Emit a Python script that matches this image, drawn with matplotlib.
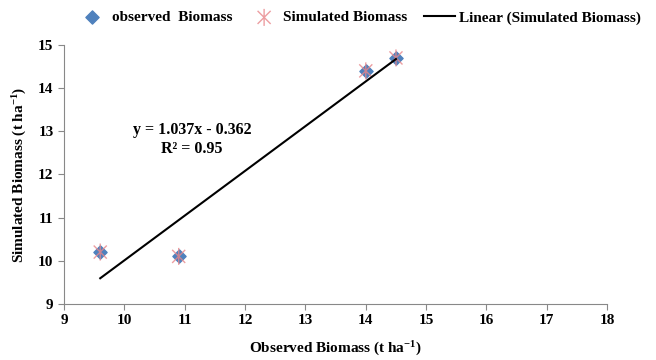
import numpy as np
import matplotlib.pyplot as plt
from matplotlib.path import Path

observed = [9.6, 10.9, 14.0, 14.5]
simulated = [10.2, 10.1, 14.4, 14.7]
slope = 1.037
intercept = -0.362
r2 = 0.95

plt.rcParams['font.family'] = ['Liberation Serif', 'DejaVu Serif']
plt.rcParams['font.weight'] = 'bold'
plt.rcParams['mathtext.fontset'] = 'custom'
plt.rcParams['mathtext.rm'] = 'Liberation Serif:bold'
plt.rcParams['mathtext.bf'] = 'Liberation Serif:bold'
plt.rcParams['mathtext.default'] = 'rm'

# excel-like star marker: x with a vertical bar
star = Path([(-1, -1), (1, 1), (-1, 1), (1, -1), (0, -1.3), (0, 1.3)],
            [Path.MOVETO, Path.LINETO, Path.MOVETO, Path.LINETO, Path.MOVETO, Path.LINETO])

fig = plt.figure(figsize=(6.56, 3.6), dpi=100)
ax = fig.add_axes([0.0976, 0.156, 0.828, 0.719])

ax.scatter(observed, simulated, marker='D', s=45, color='#4F81BD', zorder=3,
           label='observed  Biomass')
ax.scatter(observed, simulated, marker=star, s=150, facecolors='none',
           edgecolors='#E8868A', linewidths=1.0, zorder=4, alpha=0.8,
           label='Simulated Biomass')

xs = np.array([min(observed), max(observed)])
ax.plot(xs, slope * xs + intercept, color='black', lw=1.5, zorder=5,
        label='Linear (Simulated Biomass)')

ax.text(11.12, 12.81, f'y = {slope}x - {abs(intercept)}\nR² = {r2}', ha='center', va='center',
        fontsize=11.5, fontweight='bold', linespacing=1.25)

ax.set_xlim(9, 18)
ax.set_ylim(9, 15)
ax.set_xticks(range(9, 19))
ax.set_yticks(range(9, 16))
for s in ['top', 'right']:
    ax.spines[s].set_visible(False)
for s in ['left', 'bottom']:
    ax.spines[s].set_color('#888888')
ax.tick_params(colors='#888888', labelcolor='black', labelsize=11, length=4)
for lab in ax.get_xticklabels() + ax.get_yticklabels():
    lab.set_fontweight('bold')

ax.set_xlabel('Observed Biomass (t ha$^{-1}$)', fontsize=11, fontweight='bold', labelpad=9)
ax.set_ylabel('Simulated Biomass (t ha$^{-1}$)', fontsize=11, fontweight='bold', labelpad=7)

fig.legend(loc='center', bbox_to_anchor=(0.547, 0.951), ncol=3, frameon=False,
           handlelength=2.0, columnspacing=1.1, handletextpad=0.25,
           prop={'weight': 'bold', 'size': 11})

fig.savefig('out.png', dpi=100)
